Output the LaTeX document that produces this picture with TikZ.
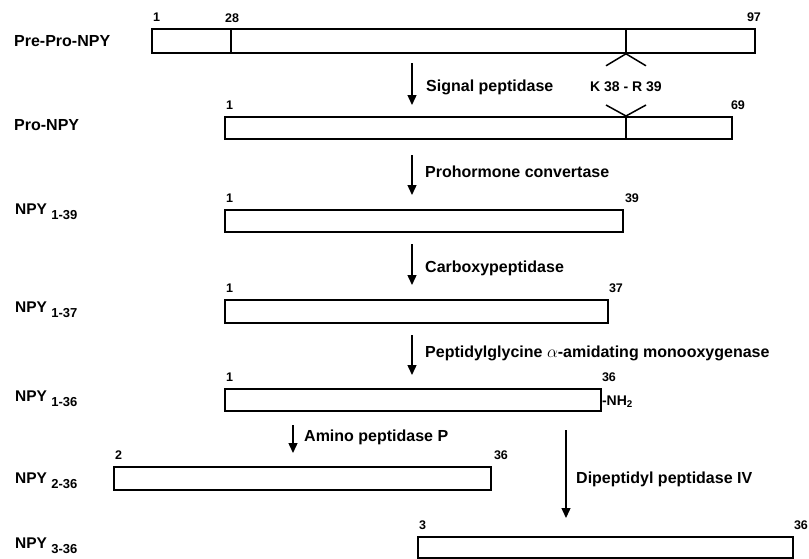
\documentclass[tikz,border=0pt]{standalone}
\usepackage{fontspec}
\setmainfont{Liberation Sans}
\usetikzlibrary{arrows.meta,calc,positioning}

\begin{document}
\begin{tikzpicture}[x=1pt,y=-1pt,
	seg/.style={draw,line width=1.8pt,inner sep=0pt,anchor=north west},
	num/.style={font=\bfseries\fontsize{12.5}{13}\selectfont,inner sep=0pt,anchor=base west},
	pname/.style={font=\bfseries\fontsize{15.5}{16}\selectfont,inner sep=0pt,anchor=base west},
	enz/.style={font=\bfseries\fontsize{16}{16}\selectfont,inner sep=0pt,anchor=base west},
	flow/.style={line width=1.4pt,-{Triangle[width=9pt,length=10pt]}}]
	\useasboundingbox (0,0) rectangle (809,558);

	% peptide chains
	\foreach \id/\x/\y/\w/\h in {ppnpy/151/28/603/24, pnpy/224/116/507/22, npyA/224/209/398/22,
		npyB/224/299/383/23, npyC/224/388/376/22, npyD/113/466/377/23, npyE/417/536/375/21}
		\node[seg,minimum width=\w pt,minimum height=\h pt] (\id) at (\x,\y) {};

	% residue numbers
	\foreach \id/\l/\r/\dx in {ppnpy/1/97/-9, pnpy/1/69/-2, npyA/1/39/1, npyB/1/37/0,
		npyC/1/36/0, npyD/2/36/2, npyE/3/36/0} {
		\node[num] (\id-l) at ($(\id.north west)+(2,-6.5)$) {\l};
		\node[num] (\id-r) at ($(\id.north east)+(\dx,-6.5)$) {\r};
	}
	\node[num] (sig) at (225,22) {28};

	% names
	\node[pname,font=\bfseries\fontsize{16}{16}\selectfont] (lab1) at (14,46) {Pre-Pro-NPY};
	\node[pname,font=\bfseries\fontsize{16}{16}\selectfont] (lab2) at (14,130) {Pro-NPY};
	\foreach \n/\y/\s in {3/214/1-39, 4/312/1-37, 5/401/1-36, 6/483/2-36, 7/548/3-36}
		\node[pname] (lab\n) at (15,\y) {NPY \raisebox{-5.5pt}{\fontsize{13}{13}\selectfont\s}};

	% cleavage sites
	\coordinate (sp) at (231,0);
	\coordinate (cut) at (626,0);
	\draw[line width=1.8pt] (sp |- ppnpy.north) -- (sp |- ppnpy.south);
	\draw[line width=1.8pt] (cut |- ppnpy.north) -- (cut |- ppnpy.south);
	\draw[line width=1.5pt] (cut |- ppnpy.south) ++(-20,12) -- ++(20,-12) -- ++(20,12);
	\draw[line width=1.8pt] (cut |- pnpy.north) -- (cut |- pnpy.south);
	\draw[line width=1.5pt] (cut |- pnpy.north) ++(-20,-11) -- ++(20,11) -- ++(20,-11);
	\node[font=\bfseries\fontsize{14}{14}\selectfont,inner sep=0pt,anchor=base] (kr) at (626,91) {K 38 - R 39};
	\node[num,font=\bfseries\fontsize{14}{14}\selectfont] (nh) at (npyC.east |- 0,405) {-NH\textsubscript{2}};

	% processing steps
	\foreach \i/\x/\ya/\yb in {1/412/63/105, 2/412/155/195, 3/412/244/285, 4/412/335/375,
		5/293/425/453, 6/566/430/518} {
		\coordinate (top\i) at (\x,\ya);
		\coordinate (tip\i) at (\x,\yb);
		\draw[flow] (top\i) -- (tip\i);
	}
	\node[enz] (e1) at (426,91) {Signal peptidase};
	\node[enz] (e2) at (425,177) {Prohormone convertase};
	\node[enz] (e3) at (425,272) {Carboxypeptidase};
	\node[enz] (e4) at (425,357) {Peptidylglycine $\alpha$-amidating monooxygenase};
	\node[enz] (e5) at (304,441) {Amino peptidase P};
	\node[enz] (e6) at (576,483) {Dipeptidyl peptidase IV};
\end{tikzpicture}
\end{document}
